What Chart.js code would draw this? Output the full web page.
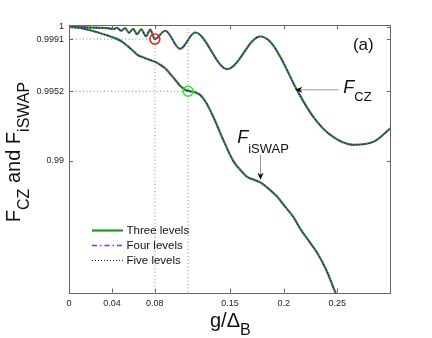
<!DOCTYPE html>
<html>
<head>
<meta charset="utf-8">
<script src="https://cdn.jsdelivr.net/npm/chart.js@4/dist/chart.umd.min.js"></script>
<style>
html, body { margin: 0; padding: 0; background: #fff; }
</style>
</head>
<body>
<canvas id="chart" width="432" height="338"></canvas>
<script>
// F_CZ curve
const czG = [0, 0.0149, 0.0289, 0.0364, 0.041, 0.0448, 0.0485, 0.0522, 0.056, 0.0597, 0.0634, 0.0672,
  0.0718, 0.0756, 0.08, 0.0896, 0.1035, 0.1175, 0.1474, 0.1782, 0.1875, 0.1968, 0.2118, 0.2276,
  0.2435, 0.2649, 0.2836, 0.3];
const czF = [1.0, 0.99998, 0.99994, 0.99991, 0.99985, 0.99993, 0.99972, 0.99991, 0.99957, 0.99987, 0.99946, 0.99983,
  0.99931, 0.9998, 0.9991, 0.99972, 0.99837, 0.99959, 0.99686, 0.99929, 0.9989, 0.99778, 0.99538, 0.99329,
  0.99194, 0.9912, 0.99142, 0.99247];

// F_iSWAP curve
const iswapG = [0, 0.0103, 0.0196, 0.0271, 0.0354, 0.0429, 0.0494, 0.055, 0.0606, 0.0644, 0.069, 0.0737,
  0.0802, 0.0849, 0.0896, 0.0942, 0.0989, 0.1035, 0.1082, 0.1129, 0.1175, 0.1222, 0.1278, 0.1343,
  0.1437, 0.153, 0.1595, 0.166, 0.1726, 0.1782, 0.1856, 0.194, 0.2015, 0.209, 0.2155, 0.2248,
  0.2313, 0.2397, 0.2481, 0.2528];
const iswapF = [1.0, 0.99994, 0.99976, 0.99959, 0.99938, 0.99917, 0.9989, 0.99855, 0.99815, 0.99789, 0.99774, 0.99759,
  0.9974, 0.99718, 0.99692, 0.9965, 0.99606, 0.99561, 0.99531, 0.9952, 0.99512, 0.99493, 0.99434, 0.99331,
  0.99157, 0.99, 0.98933, 0.9888, 0.98858, 0.98839, 0.98794, 0.98731, 0.98656, 0.98581, 0.98492, 0.98387,
  0.98312, 0.98185, 0.9802, 0.97945];

// marked points (red = CZ, green = iSWAP)
const markG = [0.08, 0.111];
const markF = [0.9991, 0.9952];

const xTicks = [0, 0.04, 0.08, 0.15, 0.2, 0.25];
const yTicks = [0.99, 0.9952, 0.9991, 1];
const levelNames = ['Three levels', 'Four levels', 'Five levels'];

const X_MIN = 0, X_MAX = 0.3;
const Y_MIN = 0.98015, Y_MAX = 1.00015;

const styles = [
    { color: '#1f9a1f', width: 2.2, dash: [] },
    { color: '#8a2be2', width: 1.5, dash: [5, 3, 1.5, 3] },
    { color: '#111111', width: 1, dash: [1, 2] },
];

function pts(xs, ys) {
    return xs.map((x, i) => ({ x: x, y: ys[i] }));
}

let datasets = [];
styles.forEach((s, i) => {
    [[czG, czF], [iswapG, iswapF]].forEach(curve => {
        datasets.push({
            label: levelNames[i],
            data: pts(curve[0], curve[1]),
            borderColor: s.color,
            borderWidth: s.width,
            borderDash: s.dash,
            pointRadius: 0,
            cubicInterpolationMode: 'monotone',
            fill: false,
            order: 3 - i,
        });
    });
});

// dotted guide lines to the marked points
const guideStyle = { borderColor: '#888', borderWidth: 1, borderDash: [1, 2.5], pointRadius: 0, tension: 0, fill: false, order: 6 };
datasets.push(Object.assign({ data: [{ x: X_MIN, y: markF[0] }, { x: markG[0], y: markF[0] }, { x: markG[0], y: Y_MIN }] }, guideStyle));
datasets.push(Object.assign({ data: [{ x: X_MIN, y: markF[1] }, { x: markG[1], y: markF[1] }] }, guideStyle));
datasets.push(Object.assign({ data: [{ x: markG[1], y: Y_MAX }, { x: markG[1], y: Y_MIN }] }, guideStyle));

// circles
datasets.push({
    data: pts(markG, markF),
    showLine: false,
    pointRadius: 5,
    pointBorderWidth: 1.6,
    pointBackgroundColor: 'rgba(0,0,0,0)',
    pointBorderColor: ['#ff1a1a', '#22ee22'],
    order: 0,
});

function subText(ctx, parts, x, y) {
    // parts: [text, font, dy]
    parts.forEach(p => {
        ctx.font = p[1];
        ctx.fillText(p[0], x, y + p[2]);
        x += ctx.measureText(p[0]).width;
    });
}

function arrowHead(ctx, x, y, dir) {
    ctx.beginPath();
    if (dir === 'left') {
        ctx.moveTo(x, y);
        ctx.lineTo(x + 7, y - 3);
        ctx.lineTo(x + 5, y);
        ctx.lineTo(x + 7, y + 3);
    } else {
        ctx.moveTo(x, y);
        ctx.lineTo(x - 3, y - 7);
        ctx.lineTo(x, y - 5);
        ctx.lineTo(x + 3, y - 7);
    }
    ctx.closePath();
    ctx.fillStyle = '#000';
    ctx.fill();
}

const decorations = {
    id: 'decorations',
    afterDraw(chart) {
        const ctx = chart.ctx;
        const a = chart.chartArea;
        const xs = chart.scales.x, ys = chart.scales.y;
        ctx.save();

        // box
        ctx.strokeStyle = '#666';
        ctx.lineWidth = 1;
        ctx.setLineDash([]);
        ctx.strokeRect(Math.round(a.left) + 0.5, Math.round(a.top) + 0.5, Math.round(a.right - a.left) - 1, Math.round(a.bottom - a.top));

        // inward ticks
        ctx.beginPath();
        xTicks.forEach(v => {
            const px = Math.round(xs.getPixelForValue(v)) + 0.5;
            ctx.moveTo(px, a.bottom); ctx.lineTo(px, a.bottom - 4);
            ctx.moveTo(px, a.top); ctx.lineTo(px, a.top + 4);
        });
        yTicks.forEach(v => {
            const py = Math.round(ys.getPixelForValue(v)) + 0.5;
            ctx.moveTo(a.left, py); ctx.lineTo(a.left + 4, py);
            ctx.moveTo(a.right, py); ctx.lineTo(a.right - 4, py);
        });
        ctx.stroke();

        // legend
        ctx.textBaseline = 'middle';
        ctx.textAlign = 'left';
        levelNames.forEach((name, i) => {
            const y = 230.5 + i * 15;
            const s = styles[i];
            ctx.beginPath();
            ctx.strokeStyle = s.color;
            ctx.lineWidth = s.width;
            ctx.setLineDash(s.dash);
            ctx.moveTo(92, y); ctx.lineTo(123, y);
            ctx.stroke();
            ctx.fillStyle = '#111';
            ctx.font = '11.5px "Liberation Sans", Arial, sans-serif';
            ctx.fillText(name, 126.5, y);
        });
        ctx.setLineDash([]);

        ctx.textBaseline = 'alphabetic';
        ctx.fillStyle = '#111';

        // (a)
        ctx.font = '17px "Liberation Sans", Arial, sans-serif';
        ctx.fillText('(a)', xs.getPixelForValue(0.2645), ys.getPixelForValue(0.9983));

        // F_CZ label and arrow
        const cy = ys.getPixelForValue(0.99531);
        ctx.strokeStyle = '#999';
        ctx.lineWidth = 1;
        ctx.beginPath();
        ctx.moveTo(xs.getPixelForValue(0.2509), cy);
        ctx.lineTo(xs.getPixelForValue(0.2108) + 5, cy);
        ctx.stroke();
        arrowHead(ctx, xs.getPixelForValue(0.2108), cy, 'left');
        ctx.fillStyle = '#111';
        subText(ctx, [['F', 'italic 18px "Liberation Sans", Arial, sans-serif', 0],
                      ['CZ', '13px "Liberation Sans", Arial, sans-serif', 8]],
                xs.getPixelForValue(0.2556), ys.getPixelForValue(0.99508));

        // F_iSWAP label and arrow
        const ix = Math.round(xs.getPixelForValue(0.1782)) + 0.5;
        ctx.strokeStyle = '#999';
        ctx.beginPath();
        ctx.moveTo(ix, ys.getPixelForValue(0.99045));
        ctx.lineTo(ix, ys.getPixelForValue(0.98858) - 5);
        ctx.stroke();
        arrowHead(ctx, ix, ys.getPixelForValue(0.98858), 'down');
        ctx.fillStyle = '#111';
        subText(ctx, [['F', 'italic 18px "Liberation Sans", Arial, sans-serif', 0],
                      ['iSWAP', '13px "Liberation Sans", Arial, sans-serif', 10]],
                xs.getPixelForValue(0.1567), ys.getPixelForValue(0.99135));

        // x title
        const big = '20px "Liberation Sans", Arial, sans-serif';
        const small = '16px "Liberation Sans", Arial, sans-serif';
        subText(ctx, [['g/\u0394', big, 0], ['B', small, 8]], 210, 326.5);

        // y title
        ctx.translate(20, 152);
        ctx.rotate(-Math.PI / 2);
        const yParts = [['F', big, 0], ['CZ', small, 9], [' and F', big, 0], ['iSWAP', small, 9]];
        let w = 0;
        yParts.forEach(p => { ctx.font = p[1]; w += ctx.measureText(p[0]).width; });
        subText(ctx, yParts, -w / 2, 0);

        ctx.restore();
    }
};

new Chart(document.getElementById('chart'), {
    type: 'line',
    data: { datasets: datasets },
    options: {
        responsive: false,
        animation: false,
        layout: { padding: { left: 0, right: 41, top: 25, bottom: 0 } },
        plugins: { legend: { display: false }, tooltip: { enabled: false } },
        scales: {
            x: {
                type: 'linear',
                min: X_MIN,
                max: X_MAX,
                afterBuildTicks: s => { s.ticks = xTicks.map(v => ({ value: v })); },
                afterFit: s => { s.height = 45.3; },
                grid: { display: false, drawTicks: false },
                border: { display: false },
                ticks: {
                    autoSkip: false,
                    maxRotation: 0,
                    padding: 5,
                    color: '#222',
                    font: { family: '"Liberation Sans", Arial, sans-serif', size: 9 },
                    callback: v => String(v),
                },
            },
            y: {
                type: 'linear',
                min: Y_MIN,
                max: Y_MAX,
                afterBuildTicks: s => { s.ticks = yTicks.map(v => ({ value: v })); },
                afterFit: s => { s.width = 69; },
                grid: { display: false, drawTicks: false },
                border: { display: false },
                ticks: {
                    autoSkip: false,
                    padding: 5,
                    color: '#222',
                    font: { family: '"Liberation Sans", Arial, sans-serif', size: 9 },
                    callback: v => String(v),
                },
            },
        },
    },
    plugins: [decorations],
});
</script>
</body>
</html>
